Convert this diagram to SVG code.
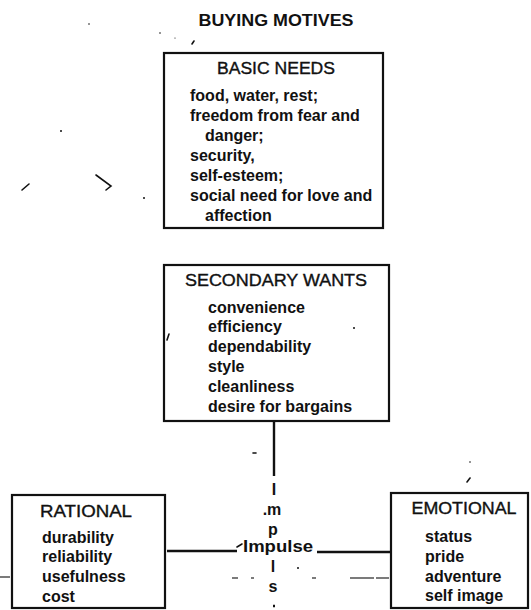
<svg xmlns="http://www.w3.org/2000/svg" width="531" height="610" viewBox="0 0 531 610">
<style>
.box{fill:#fff;stroke:#111;stroke-width:2.2}
.ttl{font-family:"Liberation Sans",Arial,sans-serif;font-size:16px;fill:#111;stroke:#111;stroke-width:0.35;text-anchor:middle}
.itm{font-family:"Liberation Sans",Arial,sans-serif;font-size:16px;font-weight:bold;fill:#111}
.ln{stroke:#111;stroke-width:2.4;fill:none}
.dash{stroke:#222;stroke-width:1.2;fill:none}
.noise{fill:none;stroke:#111;stroke-width:1.6;stroke-linecap:round}
.dot{fill:#111}
</style>
<rect width="531" height="610" fill="#fff"/>
<text x="276" y="26" font-family="'Liberation Sans',Arial,sans-serif" font-size="17" font-weight="bold" text-anchor="middle" fill="#111" textLength="155" lengthAdjust="spacingAndGlyphs">BUYING MOTIVES</text>
<g id="connectors">
<line class="ln" x1="274" y1="421" x2="274" y2="476"/>
<line class="ln" x1="167" y1="551" x2="237" y2="551"/>
<line class="ln" x1="317" y1="552" x2="391" y2="552"/>
<line class="ln" x1="273" y1="606" x2="275" y2="606" stroke-width="1.6"/>
<g class="dash">
<line x1="0" y1="577" x2="10" y2="577"/>
<line x1="232" y1="578" x2="238" y2="578"/>
<line x1="251" y1="578" x2="254" y2="578"/>
<line x1="312" y1="578" x2="316" y2="578"/>
<line x1="350" y1="578" x2="374" y2="578"/>
<line x1="376" y1="578" x2="389" y2="578"/>
</g>
</g>
<g id="basic-needs">
<rect class="box" x="164" y="53" width="219" height="175"/>
<text class="ttl" x="276" y="74" textLength="118" lengthAdjust="spacingAndGlyphs">BASIC NEEDS</text>
<text class="itm" x="190" y="101">food, water, rest;</text>
<text class="itm" x="190" y="121">freedom from fear and</text>
<text class="itm" x="205" y="141">danger;</text>
<text class="itm" x="190" y="161">security,</text>
<text class="itm" x="190" y="181">self-esteem;</text>
<text class="itm" x="190" y="201">social need for love and</text>
<text class="itm" x="205" y="221">affection</text>
</g>
<g id="secondary-wants">
<rect class="box" x="164" y="265" width="225" height="156"/>
<text class="ttl" x="276" y="286" textLength="182" lengthAdjust="spacingAndGlyphs">SECONDARY WANTS</text>
<text class="itm" x="208" y="313">convenience</text>
<text class="itm" x="208" y="332">efficiency</text>
<text class="itm" x="208" y="352">dependability</text>
<text class="itm" x="208" y="372">style</text>
<text class="itm" x="208" y="392">cleanliness</text>
<text class="itm" x="208" y="412">desire for bargains</text>
</g>
<g id="rational">
<rect class="box" x="12" y="495" width="153" height="113"/>
<text class="ttl" x="86" y="517" textLength="92" lengthAdjust="spacingAndGlyphs">RATIONAL</text>
<text class="itm" x="42" y="543">durability</text>
<text class="itm" x="42" y="562">reliability</text>
<text class="itm" x="42" y="582">usefulness</text>
<text class="itm" x="42" y="602">cost</text>
</g>
<g id="emotional">
<rect class="box" x="391" y="493" width="137" height="115"/>
<text class="ttl" x="464" y="514" textLength="105" lengthAdjust="spacingAndGlyphs">EMOTIONAL</text>
<text class="itm" x="425" y="542">status</text>
<text class="itm" x="425" y="562">pride</text>
<text class="itm" x="425" y="582">adventure</text>
<text class="itm" x="425" y="601">self image</text>
</g>
<g id="impulse">
<text class="itm" x="243" y="552" font-size="17" textLength="70" lengthAdjust="spacingAndGlyphs">Impulse</text>
<g class="itm" text-anchor="middle">
<text x="274" y="495">I</text>
<text x="272" y="515">.m</text>
<text x="273" y="535">p</text>
<text x="273" y="572">l</text>
<text x="273" y="592">s</text>
</g>
</g>
<g id="noise">
<g class="noise">
<path d="M22 190 L29 184"/>
<path d="M96 175 L111 186 L106 190"/>
<path d="M192 44 L194 41"/>
<path d="M167 340 L169 334"/>
<path d="M467 482 L470 478"/>
<path d="M253 453 L256 453"/>
<path d="M237 547 L242 544"/>
</g>
<g class="dot">
<circle cx="144" cy="198" r="1"/>
<circle cx="61" cy="131" r="1"/>
<circle cx="89" cy="24" r="0.8"/>
<circle cx="160" cy="33" r="0.8"/>
<circle cx="175" cy="38" r="0.6"/>
<circle cx="354" cy="328" r="1"/>
<circle cx="470" cy="462" r="0.8"/>
<circle cx="298" cy="568" r="1"/>
</g>
</g>
</svg>
